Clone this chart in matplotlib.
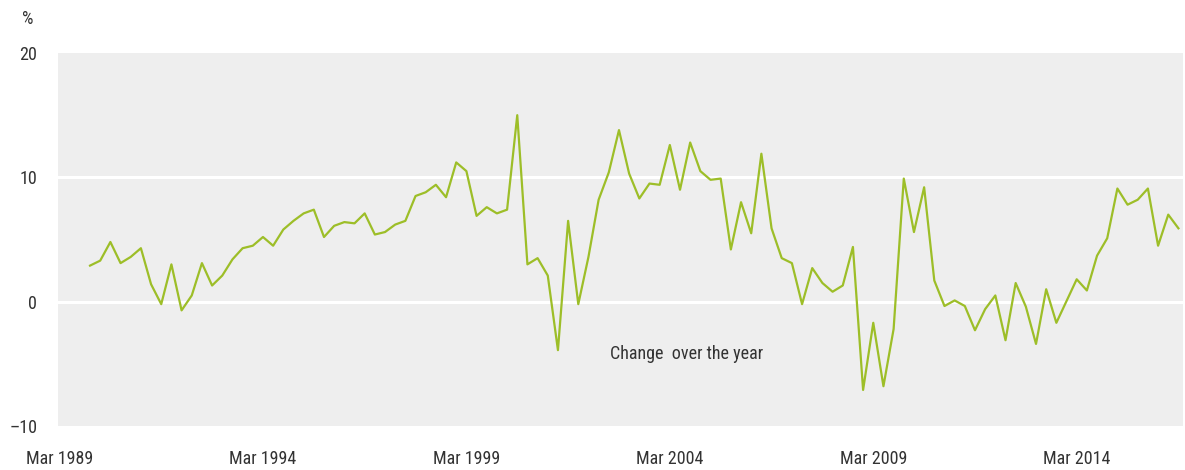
import numpy as np
import matplotlib
matplotlib.use('Agg')
import matplotlib.pyplot as plt

plt.rcParams['font.family'] = ['Liberation Sans Narrow', 'Roboto Condensed', 'Archivo Narrow', 'DejaVu Sans']
plt.rcParams['axes.unicode_minus'] = False

# quarterly, Dec 1989 .. Sep 2016, change over the year (%)
values = [
    2.9, 3.3, 4.8, 3.1, 3.6, 4.3, 1.4, -0.2, 3.0, -0.7,
    0.5, 3.1, 1.3, 2.1, 3.4, 4.3, 4.5, 5.2, 4.5, 5.8,
    6.5, 7.1, 7.4, 5.2, 6.1, 6.4, 6.3, 7.1, 5.4, 5.6,
    6.2, 6.5, 8.5, 8.8, 9.4, 8.4, 11.2, 10.5, 6.9, 7.6,
    7.1, 7.4, 15.0, 3.0, 3.5, 2.1, -3.9, 6.5, -0.2, 3.6,
    8.2, 10.4, 13.8, 10.3, 8.3, 9.5, 9.4, 12.6, 9.0, 12.8,
    10.5, 9.8, 9.9, 4.2, 8.0, 5.5, 11.9, 5.9, 3.5, 3.1,
    -0.2, 2.7, 1.5, 0.8, 1.3, 4.4, -7.1, -1.7, -6.8, -2.2,
    9.9, 5.6, 9.2, 1.7, -0.35, 0.1, -0.35, -2.3, -0.6, 0.5,
    -3.1, 1.5, -0.4, -3.4, 1.0, -1.7, 0.05, 1.8, 0.9, 3.7,
    5.1, 9.1, 7.8, 8.2, 9.1, 4.5, 7.0, 5.9,
]
first_q = 3  # quarters after Mar 1989
tick_labels = ['Mar 1989', 'Mar 1994', 'Mar 1999', 'Mar 2004', 'Mar 2009', 'Mar 2014']
y_ticks = [-10, 0, 10, 20]
y_labels = ['\u201310', '0', '10', '20']

x = np.arange(first_q, first_q + len(values))

fig = plt.figure(figsize=(11.85, 4.7), dpi=100)
ax = fig.add_axes([58 / 1185, 44 / 470, 1125 / 1185, 373 / 470])
ax.set_facecolor('#eeeeee')

for y in [0, 10]:
    ax.axhline(y, color='white', lw=2.2, zorder=1)

ax.plot(x, values, color='#9dbe28', lw=1.6, zorder=3)

ax.set_ylim(-10, 20)
ax.set_xlim(-0.15, 110.45)
ax.set_yticks(y_ticks)
ax.set_yticklabels(y_labels)
ax.set_xticks(np.arange(len(tick_labels)) * 20)
ax.set_xticklabels(tick_labels)
ax.tick_params(axis='both', length=0, labelsize=13, labelcolor='#333333')
ax.tick_params(axis='y', pad=15)
ax.tick_params(axis='x', pad=17)
for s in ax.spines.values():
    s.set_visible(False)

ax.text(54.1, -4.2, 'Change  over the year', fontsize=13, color='#333333',
        ha='left', va='center')
fig.text(28 / 1185, 1 - 19 / 470, '%', fontsize=13, color='#333333',
         ha='center', va='center')

plt.savefig('out.png', dpi=100)
